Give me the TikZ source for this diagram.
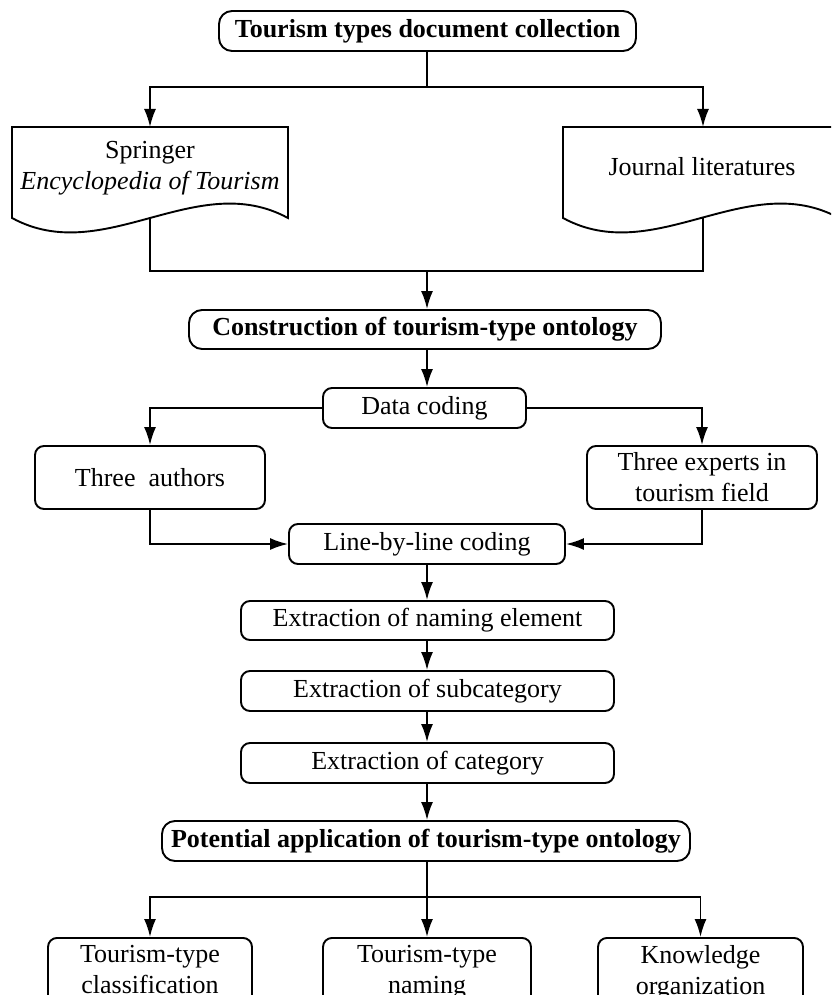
\documentclass[tikz,border=0pt]{standalone}
\usepackage{fontspec}
\setmainfont{Liberation Serif}
\usetikzlibrary{arrows.meta}
\begin{document}
\begin{tikzpicture}[x=1pt,y=-1pt,
  line width=1.9pt,
  every node/.style={font=\fontsize{26}{31}\selectfont, align=center, inner sep=0pt},
  rbox/.style={draw, rounded corners=9pt, minimum width=#1, line width=1.9pt},
  headbox/.style={draw, rounded corners=13pt, minimum width=#1, minimum height=40pt, font=\fontsize{26}{31}\selectfont\bfseries},
  arr/.style={-{Latex[length=18pt,width=12pt]}}
]
\clip (0,0) rectangle (831,995);
% top
\node[headbox=417pt] (top) at (427.5,31) {Tourism types document collection};
% documents
\draw (12,127) -- (288,127) -- (288,218) .. controls (196,168) and (104,268) .. (12,218) -- cycle;
\draw (563,127) -- (839,127) -- (839,218) .. controls (747,168) and (655,268) .. (563,218) -- cycle;
\node (docL) at (150,168) {Springer\\\textit{Encyclopedia of Tourism}};
\node (docR) at (702,167) {Journal literatures};
\coordinate (docLt) at (150,127);
\coordinate (docRt) at (703,127);
\coordinate (docLb) at (150,218);
\coordinate (docRb) at (703,218);
\coordinate (j1) at (427,87);
\draw (top.south -| j1) -- (j1);
\draw[arr] (j1) -| (docLt);
\draw[arr] (j1) -| (docRt);
% construction
\node[headbox=472pt, minimum height=39pt] (cons) at (425,329.5) {Construction of tourism-type ontology};
\coordinate (j2) at (427,271);
\draw (docLb) |- (j2);
\draw (docRb) |- (j2);
\draw[arr] (j2) -- (j2 |- cons.north);
% data coding
\node[rbox=203pt, minimum height=40pt] (data) at (424.5,408) {Data coding};
\draw[arr] (cons.south -| j2) -- (j2 |- data.north);
\node[rbox=230pt, minimum height=63pt] (auth) at (150,477.5) {Three\ \ authors};
\node[rbox=230pt, minimum height=63pt] (expt) at (702,477.5) {Three experts in\\tourism field};
\draw[arr] (data.west) -| (auth.north);
\draw[arr] (data.east) -| (expt.north);
% line by line
\node[rbox=276pt, minimum height=40pt] (line) at (427,544) {Line-by-line coding};
\draw[arr] (auth.south) |- (line.west);
\draw[arr] (expt.south) |- (line.east);
% extraction
\node[rbox=373pt, minimum height=39pt] (ename) at (427.5,620.5) {Extraction of naming element};
\node[rbox=373pt, minimum height=40pt] (esub) at (427.5,691) {Extraction of subcategory};
\node[rbox=373pt, minimum height=40pt] (ecat) at (427.5,763) {Extraction of category};
\draw[arr] (line.south) -- (line.south |- ename.north);
\draw[arr] (ename.south -| line.south) -- (line.south |- esub.north);
\draw[arr] (esub.south -| line.south) -- (line.south |- ecat.north);
% potential
\node[headbox=528pt] (pot) at (426,841) {Potential application of tourism-type ontology};
\draw[arr] (ecat.south -| line.south) -- (line.south |- pot.north);
\coordinate (j3) at (427,897);
\node[rbox=204pt, minimum height=90pt, anchor=north] (b1) at (150,937) {};
\node[rbox=208pt, minimum height=90pt, anchor=north] (b2) at (427,937) {};
\node[rbox=205pt, minimum height=90pt, anchor=north] (b3) at (700.5,937) {};
\node[anchor=north] (t1) at (150,944) {Tourism-type\\classification};
\node[anchor=north] (t2) at (427,944) {Tourism-type\\naming};
\node[anchor=north] (t3) at (700.5,944) {Knowledge\\organization};
\draw (pot.south -| j3) -- (j3);
\draw[arr] (j3) -| (b1.north);
\draw[arr] (j3) -- (b2.north);
\draw[arr] (j3) -| (b3.north);
\end{tikzpicture}
\end{document}
